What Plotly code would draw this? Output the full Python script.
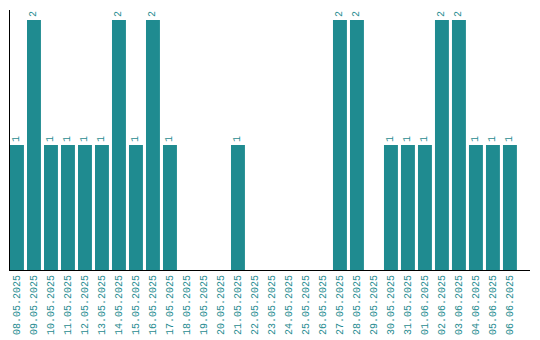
import plotly.graph_objects as go

dates = ["08.05.2025", "09.05.2025", "10.05.2025", "11.05.2025", "12.05.2025",
         "13.05.2025", "14.05.2025", "15.05.2025", "16.05.2025", "17.05.2025",
         "18.05.2025", "19.05.2025", "20.05.2025", "21.05.2025", "22.05.2025",
         "23.05.2025", "24.05.2025", "25.05.2025", "26.05.2025", "27.05.2025",
         "28.05.2025", "29.05.2025", "30.05.2025", "31.05.2025", "01.06.2025",
         "02.06.2025", "03.06.2025", "04.06.2025", "05.06.2025", "06.06.2025"]
counts = [1, 2, 1, 1, 1, 1, 2, 1, 2, 1,
          0, 0, 0, 1, 0, 0, 0, 0, 0, 2,
          2, 0, 1, 1, 1, 2, 2, 1, 1, 1]

teal = "#1f8b90"
labels = [str(v) if v > 0 else "" for v in counts]
font_family = "Liberation Mono"

fig = go.Figure(go.Bar(
    x=list(range(len(dates))), y=counts,
    marker=dict(color=teal, line=dict(width=0)),
    text=labels, textposition="outside", textangle=-90,
    textfont=dict(family=font_family, size=10, color=teal),
    cliponaxis=False,
    width=0.82,
    hoverinfo="skip",
))

fig.update_layout(
    width=540, height=340,
    margin=dict(l=10, r=10, t=10, b=70, autoexpand=False),
    paper_bgcolor="white", plot_bgcolor="white",
    showlegend=False,
    font=dict(family=font_family, size=10, color=teal),
)
fig.update_xaxes(
    tickmode="array", tickvals=list(range(len(dates))), ticktext=dates,
    tickangle=-90, range=[-0.41, 30.18], automargin=False,
    showline=True, linecolor="black", linewidth=1,
    showgrid=False, zeroline=False, ticks="",
    tickfont=dict(family=font_family, size=10, color=teal),
)
fig.update_yaxes(
    range=[0, 2.08], showline=True, linecolor="black", linewidth=1,
    showgrid=False, zeroline=False, showticklabels=False, ticks="",
    automargin=False,
)

fig.write_html(
    "out.html",
    config={"displayModeBar": False},
    post_script="document.body.style.margin='0';document.body.style.overflow='hidden';",
)
